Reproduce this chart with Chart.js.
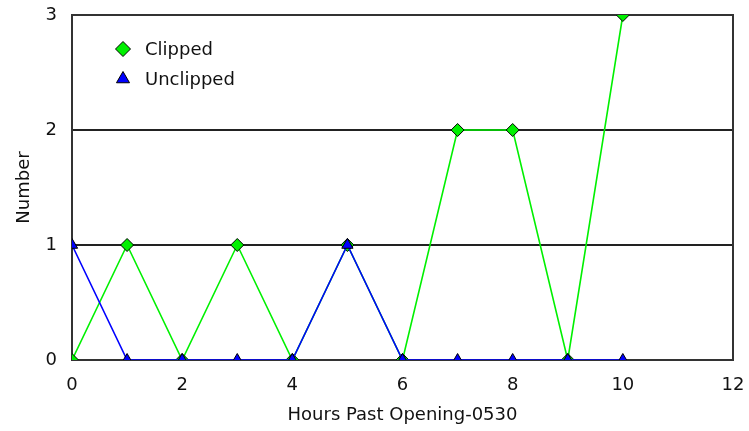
<!DOCTYPE html>
<html>
<head>
<meta charset="utf-8">
<script src="https://cdn.jsdelivr.net/npm/chart.js@4.4.1/dist/chart.umd.min.js"></script>
<style>
  html, body { margin: 0; padding: 0; background: #fff; }
  #wrap { width: 749px; height: 431px; }
</style>
</head>
<body>
<div id="wrap"><canvas id="chart" width="749" height="431"></canvas></div>
<script>
const hours = [0, 1, 2, 3, 4, 5, 6, 7, 8, 9, 10];
const clipped = [0, 1, 0, 1, 0, 1, 0, 2, 2, 0, 3];
const unclipped = [1, 0, 0, 0, 0, 1, 0, 0, 0, 0, 0];
const xTickValues = [0, 2, 4, 6, 8, 10, 12];
const yTickValues = [0, 1, 2, 3];
const seriesNames = ['Clipped', 'Unclipped'];

const FONT = 'DejaVu Sans';

// Rahmen um die Zeichenfläche (unter den Linien)
const frame = {
    id: 'frame',
    beforeDatasetsDraw(chart) {
        const a = chart.chartArea;
        const ctx = chart.ctx;
        ctx.save();
        ctx.strokeStyle = '#333';
        ctx.lineWidth = 2;
        ctx.strokeRect(a.left, a.top, a.right - a.left, a.bottom - a.top);
        ctx.restore();
    }
};

// Legende innerhalb der Zeichenfläche
const innerLegend = {
    id: 'innerLegend',
    afterDraw(chart) {
        const ctx = chart.ctx;
        ctx.save();
        chart.data.datasets.forEach((ds, i) => {
            const x = 123, y = 49 + i * 30;
            ctx.fillStyle = ds.pointBackgroundColor;
            ctx.strokeStyle = '#000';
            ctx.lineWidth = 1;
            ctx.beginPath();
            const r = 7.5;
            if (ds.pointStyle === 'rectRot') {
                ctx.moveTo(x, y - r);
                ctx.lineTo(x + r, y);
                ctx.lineTo(x, y + r);
                ctx.lineTo(x - r, y);
            } else {
                ctx.moveTo(x, y - r);
                ctx.lineTo(x + r * 0.87, y + r * 0.5);
                ctx.lineTo(x - r * 0.87, y + r * 0.5);
            }
            ctx.closePath();
            ctx.fill();
            ctx.stroke();
            ctx.fillStyle = '#111';
            ctx.font = '18px "' + FONT + '"';
            ctx.textBaseline = 'middle';
            ctx.textAlign = 'left';
            ctx.fillText(ds.label, 145, y + 1);
        });
        ctx.restore();
    }
};

new Chart(document.getElementById('chart'), {
    type: 'line',
    data: {
        datasets: [
            {
                label: seriesNames[0],
                data: hours.map((h, i) => ({ x: h, y: clipped[i] })),
                borderColor: '#00f000',
                backgroundColor: '#00f000',
                pointBackgroundColor: '#00f000',
                pointBorderColor: '#000',
                pointBorderWidth: 1,
                pointStyle: 'rectRot',
                pointRadius: 6.5,
                borderWidth: 1.6,
                tension: 0,
                order: 2
            },
            {
                label: seriesNames[1],
                data: hours.map((h, i) => ({ x: h, y: unclipped[i] })),
                borderColor: '#0000ff',
                backgroundColor: '#0000ff',
                pointBackgroundColor: '#0000ff',
                pointBorderColor: '#000',
                pointBorderWidth: 1,
                pointStyle: 'triangle',
                pointRadius: 6.5,
                borderWidth: 1.6,
                tension: 0,
                order: 1
            }
        ]
    },
    options: {
        responsive: false,
        animation: false,
        layout: { padding: { left: 0, right: 16, top: 15, bottom: 0 } },
        plugins: {
            legend: { display: false },
            tooltip: { enabled: false }
        },
        scales: {
            x: {
                type: 'linear',
                min: 0,
                max: 12,
                afterBuildTicks: axis => { axis.ticks = xTickValues.map(v => ({ value: v })); },
                afterFit: axis => {
                    axis.height = 71;
                    axis.paddingLeft = 0;
                    axis.paddingRight = 0;
                },
                grid: { display: false, drawTicks: false },
                border: { display: false },
                ticks: {
                    padding: 15,
                    color: '#111',
                    font: { family: FONT, size: 18 },
                    maxRotation: 0
                },
                title: {
                    display: true,
                    text: 'Hours Past Opening-0530',
                    color: '#111',
                    font: { family: FONT, size: 18 },
                    padding: { top: 0, bottom: 5 }
                }
            },
            y: {
                min: 0,
                max: 3,
                afterBuildTicks: axis => { axis.ticks = yTickValues.map(v => ({ value: v })); },
                afterFit: axis => {
                    axis.width = 72;
                    axis.paddingTop = 0;
                    axis.paddingBottom = 0;
                },
                grid: {
                    color: ctx => (ctx.tick.value === 0 || ctx.tick.value === 3) ? 'rgba(0,0,0,0)' : '#222',
                    lineWidth: 2,
                    drawTicks: false
                },
                border: { display: false },
                ticks: {
                    padding: 15,
                    color: '#111',
                    font: { family: FONT, size: 18 }
                },
                title: {
                    display: true,
                    text: 'Number',
                    color: '#111',
                    font: { family: FONT, size: 18 },
                    padding: { top: 14, bottom: 0 }
                }
            }
        }
    },
    plugins: [frame, innerLegend]
});
</script>
</body>
</html>
